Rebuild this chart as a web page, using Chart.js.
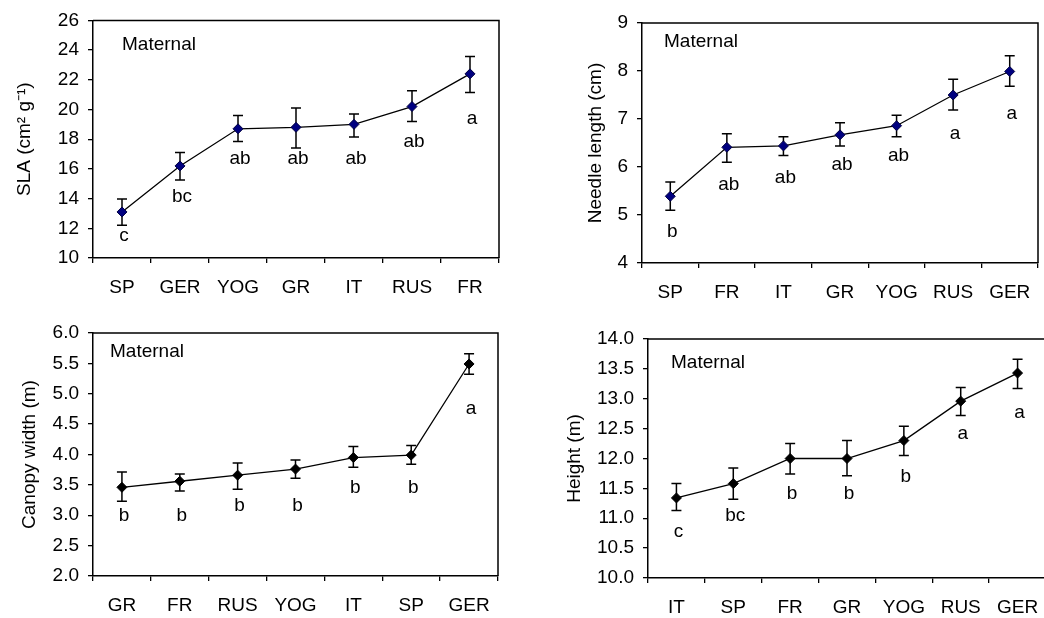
<!DOCTYPE html>
<html>
<head>
<meta charset="utf-8">
<script src="https://cdn.jsdelivr.net/npm/chart.js@4"></script>
<style>
  html, body { margin: 0; padding: 0; background: #fff; }
  body { width: 1044px; height: 618px; overflow: hidden; position: relative; }
  canvas { position: absolute; }
</style>
</head>
<body>
<canvas id="slaChart" width="522" height="309" style="left:0;top:0"></canvas>
<canvas id="needleChart" width="522" height="309" style="left:522px;top:0"></canvas>
<canvas id="canopyChart" width="522" height="309" style="left:0;top:309px"></canvas>
<canvas id="heightChart" width="530" height="309" style="left:522px;top:309px"></canvas>
<script>
// SLA (top left)
const slaCats = ["SP", "GER", "YOG", "GR", "IT", "RUS", "FR"];
const slaMean = [13.1, 16.2, 18.7, 18.8, 19.0, 20.2, 22.4];
const slaLow = [12.2, 15.25, 17.85, 17.4, 18.15, 19.2, 21.15];
const slaHigh = [13.97, 17.1, 19.6, 20.1, 19.7, 21.27, 23.57];
const slaLetters = ["c", "bc", "ab", "ab", "ab", "ab", "a"];
const slaLetterY = [11.5, 14.1, 16.7, 16.7, 16.7, 17.8, 19.4];

// Needle length (top right)
const needleCats = ["SP", "FR", "IT", "GR", "YOG", "RUS", "GER"];
const needleMean = [5.39, 6.41, 6.44, 6.67, 6.86, 7.5, 7.99];
const needleLow = [5.1, 6.1, 6.24, 6.44, 6.63, 7.19, 7.68];
const needleHigh = [5.685, 6.695, 6.63, 6.92, 7.08, 7.83, 8.32];
const needleLetters = ["b", "ab", "ab", "ab", "ab", "a", "a"];
const needleLetterY = [4.65, 5.64, 5.78, 6.05, 6.24, 6.69, 7.11];

// Canopy width (bottom left)
const canopyCats = ["GR", "FR", "RUS", "YOG", "IT", "SP", "GER"];
const canopyMean = [3.46, 3.56, 3.66, 3.76, 3.95, 3.99, 5.49];
const canopyLow = [3.23, 3.4, 3.43, 3.61, 3.79, 3.84, 5.32];
const canopyHigh = [3.71, 3.68, 3.86, 3.91, 4.13, 4.15, 5.66];
const canopyLetters = ["b", "b", "b", "b", "b", "b", "a"];
const canopyLetterY = [2.99, 2.99, 3.16, 3.16, 3.46, 3.46, 4.76];

// Height (bottom right)
const heightCats = ["IT", "SP", "FR", "GR", "YOG", "RUS", "GER"];
const heightMean = [11.34, 11.58, 12.0, 12.0, 12.3, 12.96, 13.43];
const heightLow = [11.13, 11.32, 11.74, 11.71, 12.05, 12.72, 13.17];
const heightHigh = [11.58, 11.84, 12.25, 12.3, 12.54, 13.19, 13.66];
const heightLetters = ["c", "bc", "b", "b", "b", "a", "a"];
const heightLetterY = [10.78, 11.04, 11.41, 11.41, 11.69, 12.42, 12.77];

Chart.defaults.font.family = "'Liberation Sans', Arial, sans-serif";
Chart.defaults.font.size = 19;
Chart.defaults.color = "#000";

// error bars under the markers, letters + frame on top
const extrasPlugin = {
    id: "extras",
    beforeDatasetsDraw(chart, args, opts) {
        const { ctx, scales: { x, y } } = chart;
        ctx.save();
        ctx.strokeStyle = "#000";
        ctx.lineWidth = 1.5;
        opts.low.forEach((lo, i) => {
            const px = x.getPixelForValue(i);
            const yl = y.getPixelForValue(lo);
            const yh = y.getPixelForValue(opts.high[i]);
            ctx.beginPath();
            ctx.moveTo(px, yl);
            ctx.lineTo(px, yh);
            ctx.moveTo(px - 5, yl);
            ctx.lineTo(px + 5, yl);
            ctx.moveTo(px - 5, yh);
            ctx.lineTo(px + 5, yh);
            ctx.stroke();
        });
        ctx.restore();
    },
    afterDraw(chart, args, opts) {
        const { ctx, chartArea, scales: { x, y } } = chart;
        ctx.save();
        // box round the plot
        ctx.strokeStyle = "#000";
        ctx.lineWidth = 1.5;
        ctx.beginPath();
        ctx.moveTo(chartArea.left, chartArea.top);
        ctx.lineTo(chartArea.right, chartArea.top);
        ctx.lineTo(chartArea.right, chartArea.bottom);
        ctx.stroke();

        ctx.fillStyle = "#000";
        ctx.font = "19px 'Liberation Sans', Arial, sans-serif";
        ctx.textAlign = "center";
        ctx.textBaseline = "middle";
        opts.letters.forEach((txt, i) => {
            ctx.fillText(txt, x.getPixelForValue(i) + 2, y.getPixelForValue(opts.letterY[i]));
        });

        ctx.textAlign = "left";
        ctx.fillText("Maternal", chartArea.left + opts.noteDx, chartArea.top + opts.noteDy);
        ctx.restore();
    }
};

function makePanel(id, cats, mean, low, high, letters, letterY, cfg) {
    const ctx = document.getElementById(id).getContext("2d");
    return new Chart(ctx, {
        type: "line",
        data: {
            labels: cats,
            datasets: [{
                data: mean,
                borderColor: "#000",
                borderWidth: 1.3,
                tension: 0,
                pointStyle: "rectRot",
                pointRadius: 5,
                pointBackgroundColor: cfg.marker,
                pointBorderColor: cfg.marker === "#000" ? "#000" : "#000040",
                pointBorderWidth: 1
            }]
        },
        options: {
            responsive: false,
            animation: false,
            layout: { padding: { top: cfg.top, right: cfg.right, left: 0, bottom: 0 } },
            plugins: {
                legend: { display: false },
                tooltip: { enabled: false },
                extras: { low: low, high: high, letters: letters, letterY: letterY, noteDx: cfg.noteDx, noteDy: cfg.noteDy }
            },
            scales: {
                x: {
                    type: "category",
                    offset: true,
                    grid: { offset: true, drawOnChartArea: false, tickLength: 5, color: "#000", lineWidth: 1.3 },
                    border: { display: true, color: "#000", width: 1.5 },
                    ticks: { padding: 13, maxRotation: 0, autoSkip: false },
                    afterFit: s => { s.height = cfg.xh; }
                },
                y: {
                    min: cfg.min,
                    max: cfg.max,
                    grid: { drawOnChartArea: false, tickLength: 5, color: "#000", lineWidth: 1.3 },
                    border: { display: true, color: "#000", width: 1.5 },
                    ticks: {
                        stepSize: cfg.step,
                        padding: 9,
                        callback: v => v.toFixed(cfg.dec)
                    },
                    title: { display: true, text: cfg.title, padding: { top: cfg.titlePad, bottom: 0 } },
                    afterFit: s => { s.width = cfg.yw; }
                }
            }
        },
        plugins: [extrasPlugin]
    });
}

makePanel("slaChart", slaCats, slaMean, slaLow, slaHigh, slaLetters, slaLetterY, {
    marker: "#000080", top: 19, right: 23, xh: 51, yw: 93, min: 10, max: 26, step: 2, dec: 0,
    title: "SLA (cm\u00B2 g\u207B\u00B9)", titlePad: 13, noteDx: 29, noteDy: 24
});
makePanel("needleChart", needleCats, needleMean, needleLow, needleHigh, needleLetters, needleLetterY, {
    marker: "#000080", top: 23, right: 2, xh: 46, yw: 120, min: 4, max: 9, step: 1, dec: 0,
    title: "Needle length (cm)", titlePad: 62, noteDx: 22, noteDy: 19
});
makePanel("canopyChart", canopyCats, canopyMean, canopyLow, canopyHigh, canopyLetters, canopyLetterY, {
    marker: "#000", top: 24, right: 24, xh: 42, yw: 93, min: 2, max: 6, step: 0.5, dec: 1,
    title: "Canopy width (m)", titlePad: 18, noteDx: 17, noteDy: 19
});
makePanel("heightChart", heightCats, heightMean, heightLow, heightHigh, heightLetters, heightLetterY, {
    marker: "#000", top: 30, right: 3, xh: 40, yw: 126, min: 10, max: 14, step: 0.5, dec: 1,
    title: "Height (m)", titlePad: 41, noteDx: 23, noteDy: 24
});
</script>
</body>
</html>
